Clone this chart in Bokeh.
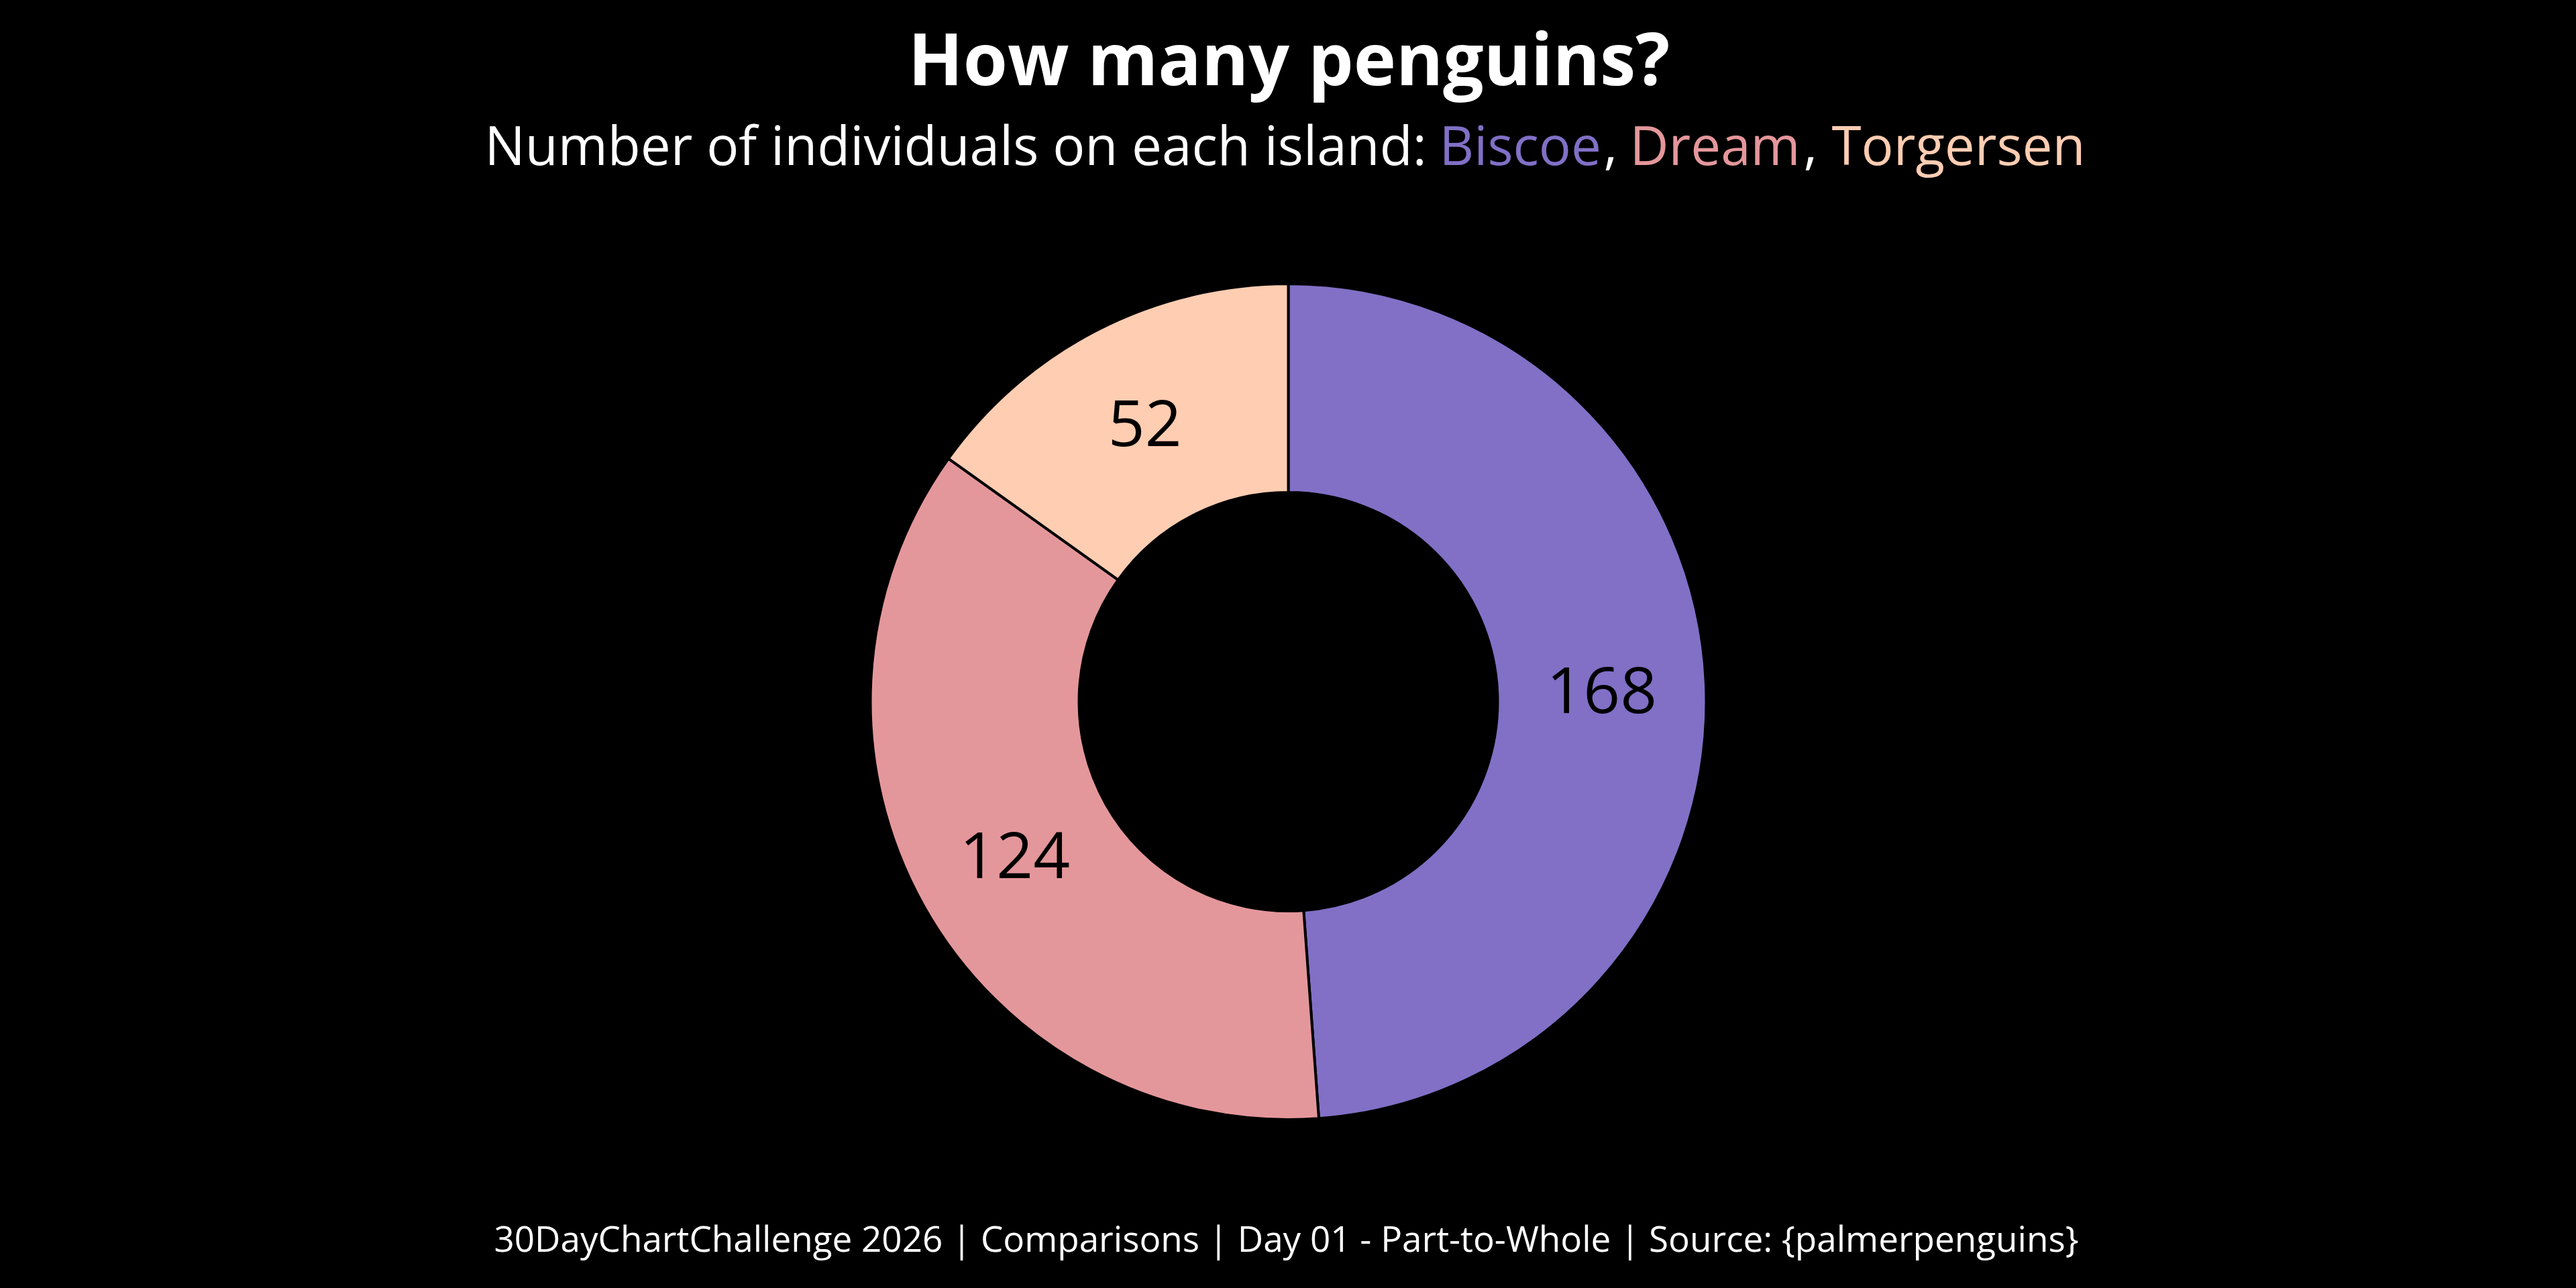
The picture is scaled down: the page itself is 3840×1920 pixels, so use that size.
import numpy as np
from bokeh.plotting import figure
from bokeh.models import ColumnDataSource, Range1d, Label
from bokeh.core.properties import value
from bokeh.embed import file_html
from bokeh.resources import INLINE

# ---- data ----
islands = ["Biscoe", "Dream", "Torgersen"]
counts = [168, 124, 52]
colors = ["#8170C6", "#E4979B", "#FFCDB2"]

title_text = "How many penguins?"
subtitle_prefix = "Number of individuals on each island: "
caption_text = "30DayChartChallenge 2026 | Comparisons | Day 01 - Part-to-Whole | Source: {palmerpenguins}"

# ---- layout ----
W, H = 3824, 1904
CX, CY = 1920, 858.5
R_OUT, R_IN = 623, 312
FONT = "Open Sans"

total = sum(counts)
cum = np.cumsum([0] + counts)
start = np.pi / 2 - 2 * np.pi * cum[:-1] / total
end = np.pi / 2 - 2 * np.pi * cum[1:] / total
mid = (start + end) / 2
r_lab = (R_OUT + R_IN) / 2

src = ColumnDataSource(dict(
    island=islands, count=counts, color=colors,
    start=start, end=end,
    x=[CX] * len(counts), y=[CY] * len(counts),
    lx=CX + r_lab * np.cos(mid), ly=CY + r_lab * np.sin(mid),
    label=[str(c) for c in counts],
))

p = figure(width=W, height=H, output_backend="svg", toolbar_location=None,
           x_range=Range1d(0, W), y_range=Range1d(0, H),
           x_axis_location=None, y_axis_location=None,
           min_border=0, background_fill_color="black", border_fill_color="black",
           outline_line_color=None)
p.grid.visible = False

p.annular_wedge(x="x", y="y", inner_radius=R_IN, outer_radius=R_OUT,
                start_angle="start", end_angle="end", direction="clock",
                fill_color="color", line_color="black", line_width=4, source=src)

p.text(x="lx", y="ly", text="label", source=src, text_font=value(FONT),
       text_font_size="96px", text_color="black", text_align="center",
       text_baseline="middle")

p.add_layout(Label(x=1921, y=1819, text=title_text, text_font=FONT,
                   text_font_size="107px", text_font_style="bold",
                   text_color="white", text_align="center", text_baseline="alphabetic"))

sub_parts = [
    (subtitle_prefix, "white", 722),
    (islands[0], colors[0], 2145),
    (",", "white", 2390),
    (islands[1], colors[1], 2429),
    (",", "white", 2688),
    (islands[2], colors[2], 2730),
]
for txt, col, xx in sub_parts:
    p.add_layout(Label(x=xx, y=1690, text=txt, text_font=FONT,
                       text_font_size="80px", text_color=col,
                       text_align="left", text_baseline="alphabetic"))

p.add_layout(Label(x=1917, y=59, text=caption_text, text_font=FONT,
                   text_font_size="53px", text_color="white",
                   text_align="center", text_baseline="alphabetic"))

html = file_html(p, INLINE)
html = html.replace("<head>", "<head><style>html,body{background:#000;}</style>", 1)
open("out.html", "w").write(html)
